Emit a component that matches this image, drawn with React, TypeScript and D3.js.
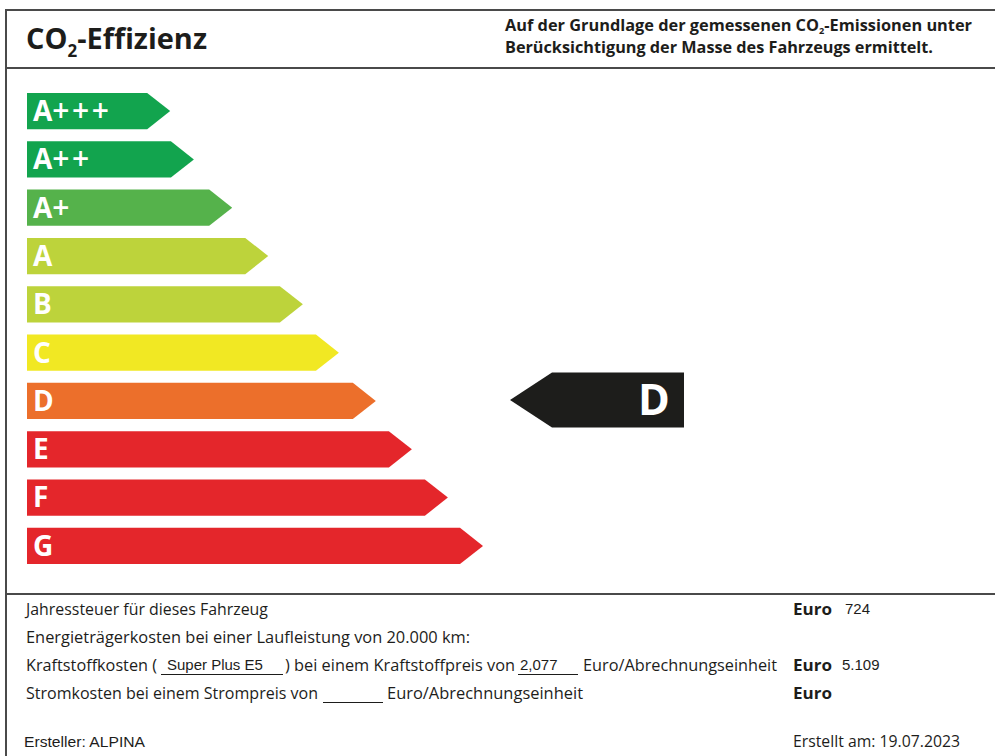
import React from 'react';
import * as d3 from 'd3';

// efficiency classes, top to bottom
const classes = ['A+++', 'A++', 'A+', 'A', 'B', 'C', 'D', 'E', 'F', 'G'];
const classColors = ['#12a44e', '#12a44e', '#55b24b', '#bdd33b', '#bdd33b', '#f1e823', '#ec6f2b', '#e4262b', '#e4262b', '#e4262b'];
// arrow length relative to the longest (G) arrow, in %
const arrowLength = [31.4, 36.6, 45, 52.9, 60.5, 68.4, 76.5, 84.4, 92.3, 100];
const vehicleClass = 'D';

const taxEuro = '724';
const fuelType = 'Super Plus E5';
const fuelPrice = '2,077';
const fuelEuro = '5.109';
const creator = 'ALPINA';
const createdOn = '19.07.2023';

const W = 995;
const H = 756;
const font = '"Open Sans", "Noto Sans", sans-serif';
const arial = '"Liberation Sans", Arial, sans-serif';

const App = () => {
  const y = d3.scaleBand<string>().domain(classes).range([93, 564]).paddingInner(0.25);
  const x = d3.scaleLinear().domain([0, 100]).range([27, 483]);
  const bw = y.bandwidth();
  const tip = 23;

  const arrow = (len: number, top: number) => {
    const p = d3.path();
    const right = x(len);
    p.moveTo(x(0), top);
    p.lineTo(right - tip, top);
    p.lineTo(right, top + bw / 2);
    p.lineTo(right - tip, top + bw);
    p.lineTo(x(0), top + bw);
    p.closePath();
    return p.toString();
  };

  // black indicator arrow pointing left, next to the vehicle's class row
  const cy = (y(vehicleClass) ?? 0) + bw / 2 - 1;
  const ih = 55;
  const ind = d3.path();
  ind.moveTo(510, cy);
  ind.lineTo(552, cy - ih / 2);
  ind.lineTo(684, cy - ih / 2);
  ind.lineTo(684, cy + ih / 2);
  ind.lineTo(552, cy + ih / 2);
  ind.closePath();

  const line = '#4a4a4a';
  const txt = '#1d1d1b';

  // footer text helper: Myriad-like width, forced to the reference's line length
  const T = (props: { x: number; y: number; len: number; bold?: boolean; children: React.ReactNode }) => (
    <text
      x={props.x}
      y={props.y}
      textLength={props.len}
      lengthAdjust="spacingAndGlyphs"
      fontFamily={font}
      fontSize={15.5}
      fontWeight={props.bold ? 700 : 400}
      fill={txt}
    >
      {props.children}
    </text>
  );

  return (
    <svg width={W} height={H} style={{ position: 'absolute', left: 0, top: 0, background: '#fff' }}>
      {/* frame */}
      <line x1={5} x2={W} y1={10} y2={10} stroke={line} strokeWidth={2} />
      <line x1={5} x2={W} y1={68} y2={68} stroke={line} strokeWidth={2} />
      <line x1={5} x2={W} y1={594} y2={594} stroke={line} strokeWidth={2} />
      <line x1={6} x2={6} y1={9} y2={H} stroke={line} strokeWidth={2} />

      {/* header */}
      <text x={26} y={49} fontFamily={font} fontWeight={700} fontSize={29} fill={txt} textLength={181} lengthAdjust="spacingAndGlyphs">
        CO<tspan fontSize={17} dy={8}>2</tspan><tspan dy={-8}>-Effizienz</tspan>
      </text>
      <text x={505} y={31} fontFamily={font} fontWeight={700} fontSize={16} fill={txt} textLength={467} lengthAdjust="spacingAndGlyphs">
        Auf der Grundlage der gemessenen CO<tspan fontSize={9} dy={3}>2</tspan><tspan dy={-3}>-Emissionen unter</tspan>
      </text>
      <text x={505} y={53} fontFamily={font} fontWeight={700} fontSize={16} fill={txt} textLength={428} lengthAdjust="spacingAndGlyphs">
        Berücksichtigung der Masse des Fahrzeugs ermittelt.
      </text>

      {/* class arrows */}
      {classes.map((c, i) => {
        const top = y(c) ?? 0;
        const m = c.match(/^([A-G])(\+*)$/);
        return (
          <g key={c}>
            <path d={arrow(arrowLength[i], top)} fill={classColors[i]} />
            <text x={33} y={top + 28} fontFamily={font} fontWeight={700} fontSize={28} fill="#fff">
              {m ? m[1] : c}
              {m && m[2] ? <tspan fontWeight={600} fontSize={30} letterSpacing={2.5}>{m[2]}</tspan> : null}
            </text>
          </g>
        );
      })}

      {/* vehicle class indicator */}
      <path d={ind.toString()} fill="#1d1d1b" />
      <text x={654} y={cy + 15} textAnchor="middle" fontFamily={font} fontWeight={700} fontSize={43} fill="#fff">
        {vehicleClass}
      </text>

      {/* cost section */}
      <T x={26} y={615} len={242}>Jahressteuer für dieses Fahrzeug</T>
      <T x={26} y={643} len={444}>Energieträgerkosten bei einer Laufleistung von 20.000 km:</T>
      <T x={26} y={671} len={131}>Kraftstoffkosten (</T>
      <T x={285} y={671} len={230}>) bei einem Kraftstoffpreis von</T>
      <T x={583} y={671} len={194}>Euro/Abrechnungseinheit</T>
      <T x={26} y={699} len={292}>Stromkosten bei einem Strompreis von</T>
      <T x={387} y={699} len={196}>Euro/Abrechnungseinheit</T>
      <T x={793} y={747} len={167}>Erstellt am: {createdOn}</T>
      {[615, 671, 699].map((yy) => (
        <T key={yy} x={793} y={yy} len={39} bold>Euro</T>
      ))}

      <g fontFamily={arial} fontSize={15} fill={txt}>
        <text x={167} y={670}>{fuelType}</text>
        <text x={520} y={670}>{fuelPrice}</text>
        <text x={845} y={614}>{taxEuro}</text>
        <text x={842} y={670}>{fuelEuro}</text>
        <text x={24} y={747} textLength={121} lengthAdjust="spacingAndGlyphs">Ersteller: {creator}</text>
      </g>
      <g stroke={txt} strokeWidth={1}>
        <line x1={161} x2={283} y1={674.5} y2={674.5} />
        <line x1={518} x2={578} y1={674.5} y2={674.5} />
        <line x1={323} x2={383} y1={702.5} y2={702.5} />
      </g>
    </svg>
  );
};

export default App;
